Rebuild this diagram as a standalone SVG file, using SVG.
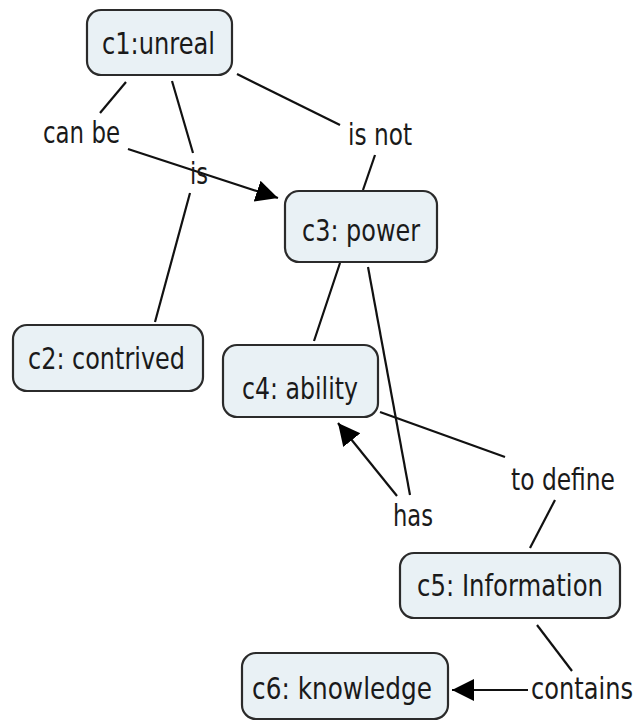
<svg xmlns="http://www.w3.org/2000/svg" width="636" height="723" viewBox="0 0 636 723">
  <style>
    .node rect { fill: #e9f1f5; stroke: #2b2b2b; stroke-width: 2.2; }
    text { font-family: "DejaVu Sans", Verdana, sans-serif; font-size: 30px; fill: #1a1a1a; }
    .link line { stroke: #111; stroke-width: 2.2; fill: none; }
  </style>
  <defs>
    <marker id="arrow" markerUnits="userSpaceOnUse" markerWidth="24" markerHeight="24" viewBox="0 0 24 24" refX="22" refY="12" orient="auto">
      <path d="M0,1 L22,12 L0,23 Z" fill="#000"/>
    </marker>
  </defs>

  <rect width="636" height="723" fill="#fff"/>

  <!-- connectors -->
  <g id="connectors" class="link">
    <line x1="126" y1="82" x2="100" y2="113"/>
    <line x1="128" y1="149" x2="278" y2="198" marker-end="url(#arrow)"/>
    <line x1="172" y1="81" x2="193" y2="153"/>
    <line x1="190" y1="193" x2="155" y2="322"/>
    <line x1="237" y1="74" x2="340" y2="125"/>
    <line x1="375" y1="155" x2="363" y2="190"/>
    <line x1="340" y1="263" x2="314" y2="341"/>
    <line x1="368" y1="267" x2="410" y2="495"/>
    <line x1="397" y1="496" x2="338" y2="423" marker-end="url(#arrow)"/>
    <line x1="380" y1="412" x2="505" y2="457"/>
    <line x1="555" y1="500" x2="530" y2="548"/>
    <line x1="537" y1="625" x2="572" y2="671"/>
    <line x1="528" y1="690" x2="452" y2="690" marker-end="url(#arrow)"/>
  </g>

  <!-- link labels (narrowed type via horizontal scale) -->
  <g id="labels">
    <text transform="translate(43,143) scale(0.78,1)" textLength="98.7" lengthAdjust="spacingAndGlyphs">can be</text>
    <text transform="translate(190,184) scale(0.78,1)" textLength="23.1" lengthAdjust="spacingAndGlyphs">is</text>
    <text transform="translate(348,145) scale(0.78,1)" textLength="82.1" lengthAdjust="spacingAndGlyphs">is not</text>
    <text transform="translate(393,526) scale(0.78,1)" textLength="51.3" lengthAdjust="spacingAndGlyphs">has</text>
    <text transform="translate(511,490) scale(0.78,1)" textLength="133.3" lengthAdjust="spacingAndGlyphs">to define</text>
    <text transform="translate(531,699) scale(0.78,1)" textLength="130.8" lengthAdjust="spacingAndGlyphs">contains</text>
  </g>

  <!-- concepts -->
  <g id="c1" class="node">
    <rect x="87" y="10" width="145" height="65" rx="14"/>
    <text transform="translate(102,54) scale(0.78,1)" textLength="144.9" lengthAdjust="spacingAndGlyphs">c1:unreal</text>
  </g>
  <g id="c2" class="node">
    <rect x="13" y="325" width="190" height="66" rx="14"/>
    <text transform="translate(28,369) scale(0.78,1)" textLength="201.3" lengthAdjust="spacingAndGlyphs">c2: contrived</text>
  </g>
  <g id="c3" class="node">
    <rect x="285" y="191" width="152" height="71" rx="14"/>
    <text transform="translate(302,241) scale(0.78,1)" textLength="151.3" lengthAdjust="spacingAndGlyphs">c3: power</text>
  </g>
  <g id="c4" class="node">
    <rect x="223" y="345" width="155" height="72" rx="14"/>
    <text transform="translate(242,399) scale(0.78,1)" textLength="148.7" lengthAdjust="spacingAndGlyphs">c4: ability</text>
  </g>
  <g id="c5" class="node">
    <rect x="400" y="553" width="220" height="65" rx="14"/>
    <text transform="translate(417,596) scale(0.78,1)" textLength="238.5" lengthAdjust="spacingAndGlyphs">c5: Information</text>
  </g>
  <g id="c6" class="node">
    <rect x="242" y="653" width="206" height="66" rx="14"/>
    <text transform="translate(252,699) scale(0.78,1)" textLength="230.8" lengthAdjust="spacingAndGlyphs">c6: knowledge</text>
  </g>
</svg>
